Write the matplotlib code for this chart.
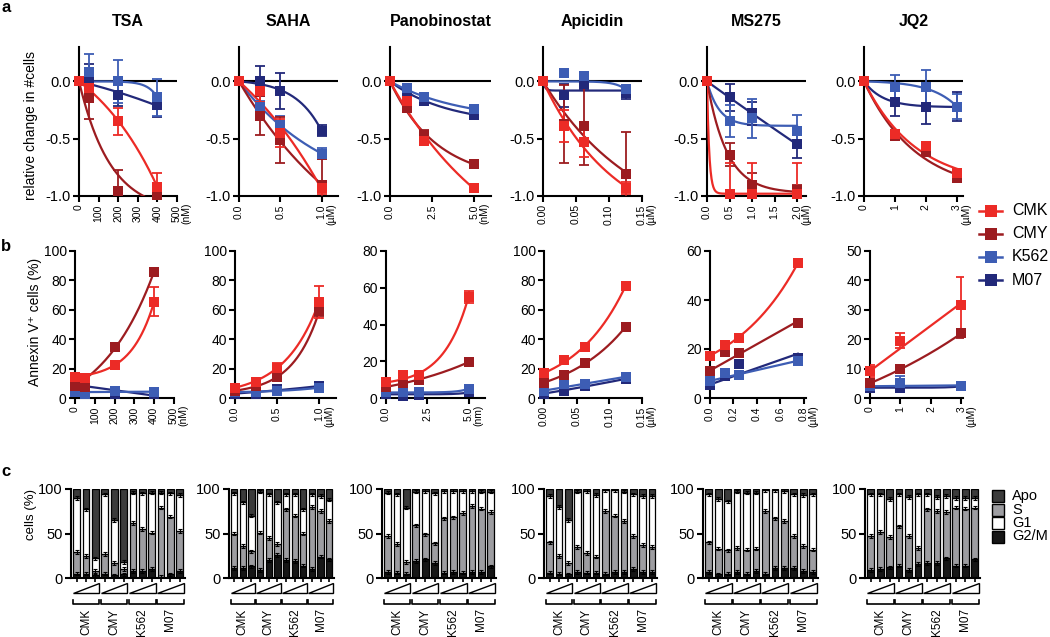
"""
Dose-response panels for HDAC / BET inhibitors in four leukaemia cell lines.

a: relative change in cell number, b: Annexin V+ cells, c: cell-cycle distribution.
"""

import matplotlib

matplotlib.use("Agg")
import matplotlib.pyplot as plt
import numpy as np
from matplotlib.lines import Line2D
from matplotlib.patches import Polygon, Rectangle
from matplotlib.transforms import blended_transform_factory


FIG_W, FIG_H = 1050, 637

CELL_LINES = ["CMK", "CMY", "K562", "M07"]
CELL_COLORS = ["#ec2b26", "#9c1c20", "#3d5db4", "#22297a"]
DRUGS = ["TSA", "SAHA", "Panobinostat", "Apicidin", "MS275", "JQ2"]

PHASES = ["Apo", "S", "G1", "G2/M"]
PHASE_COLORS = {"G2/M": "#161616", "S": "#9d9da1", "G1": "#ffffff", "Apo": "#3b3b3b"}

# ---------------------------------------------------------------- panel a
# relative change in #cells, rows are CMK, CMY, K562, M07
TSA_DOSE_A = [0, 50, 200, 400]
TSA_A = [[0, -0.06, -0.35, -0.92], [0, -0.145, -0.96, -0.99],
         [0, 0.08, 0.0, -0.14], [0, 0.03, -0.115, -0.21]]
TSA_A_ERR = [[0, 0.03, 0.12, 0.12], [0, 0.18, 0.19, 0.03],
             [0, 0.16, 0.19, 0.16], [0, 0.12, 0.10, 0.10]]

SAHA_DOSE_A = [0, 0.25, 0.5, 1.0]
SAHA_A = [[0, -0.08, -0.45, -0.93], [0, -0.30, -0.51, -0.90],
          [0, -0.22, -0.38, -0.63], [0, 0.0, -0.085, -0.43]]
SAHA_A_ERR = [[0, 0.10, 0.12, 0.05], [0, 0.17, 0.20, 0.22],
              [0, 0.05, 0.08, 0.05], [0, 0.13, 0.16, 0.05]]

PANO_DOSE_A = [0, 1, 2, 5]
PANO_A = [[0, -0.17, -0.52, -0.93], [0, -0.23, -0.47, -0.72],
          [0, -0.06, -0.14, -0.24], [0, -0.09, -0.17, -0.29]]
PANO_A_ERR = [[0, 0.02, 0.03, 0.02], [0, 0.02, 0.05, 0.02],
              [0, 0.02, 0.03, 0.02], [0, 0.02, 0.02, 0.02]]

APIC_DOSE_A = [0, 0.03125, 0.0625, 0.125]
APIC_A = [[0, -0.39, -0.53, -0.93], [0, -0.37, -0.39, -0.81],
          [0, 0.07, 0.05, -0.07], [0, -0.12, -0.02, -0.10]]
APIC_A_ERR = [[0, 0.14, 0.13, 0.05], [0, 0.34, 0.34, 0.37],
              [0, 0.03, 0.03, 0.03], [0, 0.10, 0.05, 0.05]]

MS275_DOSE_A = [0, 0.5, 1.0, 2.0]
MS275_A = [[0, -0.98, -0.98, -0.98], [0, -0.64, -0.90, -0.95],
           [0, -0.345, -0.32, -0.43], [0, -0.14, -0.28, -0.55]]
MS275_A_ERR = [[0, 0.27, 0.27, 0.27], [0, 0.10, 0.10, 0.05],
               [0, 0.14, 0.17, 0.14], [0, 0.12, 0.10, 0.12]]

JQ2_DOSE_A = [0, 1, 2, 3]
JQ2_A = [[0, -0.46, -0.56, -0.80], [0, -0.48, -0.62, -0.84],
         [0, -0.045, -0.05, -0.22], [0, -0.18, -0.22, -0.22]]
JQ2_A_ERR = [[0, 0.02, 0.03, 0.02], [0, 0.02, 0.03, 0.02],
             [0, 0.10, 0.15, 0.11], [0, 0.12, 0.15, 0.13]]

# ---------------------------------------------------------------- panel b
# Annexin V+ cells (%), rows are CMK, CMY, K562, M07
TSA_DOSE_B = [0, 50, 200, 400]
TSA_B = [[14.5, 13.5, 22.5, 65.5], [8, 7.5, 35, 86], [4, 3, 5, 4], [9, 6, 3, 3]]
TSA_B_ERR = [[1, 1, 2, 10], [1, 1, 1, 1], [1, 1, 1, 1], [1, 1, 1, 1]]

SAHA_DOSE_B = [0, 0.25, 0.5, 1.0]
SAHA_B = [[7, 11, 20.5, 65.5], [5, 8, 14, 59], [4, 4, 5, 7], [3, 3, 6, 8]]
SAHA_B_ERR = [[1, 2, 3, 11], [1, 1, 2, 3], [1, 1, 1, 1], [1, 1, 1, 1]]

PANO_DOSE_B = [0, 1, 2, 5]
PANO_B = [[8.5, 12.5, 12.5, 55], [6, 8, 10, 19.5], [3, 3, 3, 5], [2, 1, 1.5, 3]]
PANO_B_ERR = [[1, 1, 1, 3.5], [1, 1, 1, 1], [1, 1, 1, 1], [1, 1, 1, 1]]

APIC_DOSE_B = [0, 0.03125, 0.0625, 0.125]
APIC_B = [[17, 26, 34.5, 76.5], [10.5, 15.5, 23.5, 48.5], [5, 9.5, 9.5, 14], [3, 5, 8, 13]]
APIC_B_ERR = [[1, 1, 1, 1], [1, 1, 1, 1], [1, 1, 1, 1], [1, 1, 1, 1]]

MS275_DOSE_B = [0, 0.125, 0.25, 0.75]
MS275_B = [[17.3, 21.7, 24.5, 55], [11.2, 18.7, 18.4, 30.5], [7, 10.2, 9.4, 15], [5.5, 9, 14, 16.4]]
MS275_B_ERR = [[1, 1, 1, 1], [1, 1, 1, 1.5], [1, 1, 1, 1], [1, 1, 1, 1]]

JQ2_DOSE_B = [0, 1, 3]
JQ2_B = [[9.2, 19.5, 31.5], [5, 9.8, 22], [4, 5, 4], [3.5, 3.5, 4]]
JQ2_B_ERR = [[2, 2.5, 9.5], [1, 1, 1.5], [1, 2.5, 1], [1, 1, 1]]

# ---------------------------------------------------------------- panel c
# cell-cycle phases (%), bars: CMK x3, CMY x3, K562 x3, M07 x3 (rising dose)
TSA_G2M = [5, 5, 3, 5, 3, 4, 8, 8, 10, 1, 4, 8]
TSA_S = [24, 20, 5, 22, 14, 6, 54, 47, 41, 78, 65, 45]
TSA_G1 = [61, 52, 14, 67, 48, 8, 34, 40, 45, 17, 26, 40]
TSA_APO = [10, 23, 78, 6, 35, 82, 4, 5, 4, 4, 5, 7]

SAHA_G2M = [11, 11, 13, 9, 20, 26, 20, 19, 14, 10, 24, 21]
SAHA_S = [39, 25, 17, 42, 25, 12, 57, 51, 36, 70, 51, 43]
SAHA_G1 = [45, 49, 40, 46, 49, 47, 17, 24, 27, 14, 17, 24]
SAHA_APO = [5, 15, 30, 3, 6, 15, 6, 6, 23, 6, 8, 12]

PANO_G2M = [7, 6, 5, 19, 21, 17, 6, 7, 6, 7, 7, 13]
PANO_S = [40, 32, 13, 40, 28, 22, 61, 61, 67, 74, 71, 61]
PANO_G1 = [49, 56, 61, 38, 49, 56, 31, 30, 25, 17, 19, 23]
PANO_APO = [4, 6, 21, 3, 2, 5, 2, 2, 2, 2, 3, 3]

APIC_G2M = [6, 5, 4, 7, 6, 6, 5, 7, 7, 10, 7, 7]
APIC_S = [34, 20, 13, 28, 22, 18, 70, 63, 57, 37, 30, 28]
APIC_G1 = [52, 55, 48, 62, 70, 69, 24, 29, 33, 47, 55, 57]
APIC_APO = [8, 20, 35, 3, 2, 7, 1, 1, 3, 6, 8, 8]

MS275_G2M = [7, 4, 5, 7, 5, 8, 5, 11, 11, 11, 8, 7]
MS275_S = [33, 29, 26, 27, 27, 25, 70, 56, 53, 36, 28, 25]
MS275_G1 = [54, 56, 55, 63, 64, 63, 24, 32, 34, 47, 57, 62]
MS275_APO = [6, 11, 14, 3, 4, 4, 1, 1, 2, 6, 7, 6]

JQ2_G2M = [9, 10, 12, 14, 9, 16, 17, 17, 22, 14, 14, 21]
JQ2_S = [38, 42, 34, 44, 38, 18, 60, 58, 52, 65, 64, 58]
JQ2_G1 = [47, 42, 43, 36, 44, 60, 17, 16, 18, 11, 12, 11]
JQ2_APO = [6, 6, 11, 6, 9, 6, 6, 9, 8, 10, 10, 10]

C_ERR = 2.0

# ---------------------------------------------------------------- axes
X_TICKS_A = [
    ([0, 100, 200, 300, 400, 500], ["0", "100", "200", "300", "400", "500"], "(nM)"),
    ([0, 0.5, 1.0], ["0.0", "0.5", "1.0"], "(µM)"),
    ([0, 2.5, 5.0], ["0.0", "2.5", "5.0"], "(nM)"),
    ([0, 0.05, 0.10, 0.15], ["0.00", "0.05", "0.10", "0.15"], "(µM)"),
    ([0, 0.5, 1.0, 1.5, 2.0], ["0.0", "0.5", "1.0", "1.5", "2.0"], "(µM)"),
    ([0, 1, 2, 3], ["0", "1", "2", "3"], "(µM)"),
]
X_TICKS_B = [
    ([0, 100, 200, 300, 400, 500], ["0", "100", "200", "300", "400", "500"], "(nM)"),
    ([0, 0.5, 1.0], ["0.0", "0.5", "1.0"], "(µM)"),
    ([0, 2.5, 5.0], ["0.0", "2.5", "5.0"], "(nm)"),
    ([0, 0.05, 0.10, 0.15], ["0.00", "0.05", "0.10", "0.15"], "(µM)"),
    ([0, 0.2, 0.4, 0.6, 0.8], ["0.0", "0.2", "0.4", "0.6", "0.8"], "(µM)"),
    ([0, 1, 2, 3], ["0", "1", "2", "3"], "(µM)"),
]
XMAX_A = [500, 1.2, 6.0, 0.15, 2.2, 3.2]
XMAX_B = [500, 1.2, 6.0, 0.15, 0.82, 3.05]
YMAX_B = [100, 100, 80, 100, 60, 50]
YSTEP_B = [20, 20, 20, 20, 20, 10]

# pixel extents (left, right) of each axes
COLS_A = [(79, 177), (239, 338), (390, 491), (543, 642), (707, 806), (864, 963)]
COLS_B = [(75, 174), (235, 336), (386, 485), (544, 642), (710, 806), (870, 963)]
COLS_C = [(71, 185), (229, 334), (382, 496), (544, 657), (703, 818), (865, 980)]
ROW_A = (47, 196)
ROW_B = (251, 398)
ROW_C = (489, 578)


def px_axes(fig, cols, rows):
    """Add an axes given pixel extents measured from the top-left corner."""
    left, right = cols
    top, bottom = rows
    return fig.add_axes([left / FIG_W, 1 - bottom / FIG_H,
                         (right - left) / FIG_W, (bottom - top) / FIG_H])


def fit_curve(x, y, growth_only=False):
    """Least-squares exponential (or linear) curve through the first point."""
    x = np.asarray(x, float)
    y = np.asarray(y, float)
    span = x.max()
    decay = [] if growth_only else -np.geomspace(0.05, 40, 160)
    ks = np.concatenate([decay, [0.0], np.geomspace(0.05, 8, 120)]) / span
    best = None
    for k in ks:
        basis = x if k == 0 else np.expm1(k * x) / k
        c = np.dot(basis, y - y[0]) / max(np.dot(basis, basis), 1e-12)
        sse = np.sum((y[0] + c * basis - y) ** 2)
        if best is None or sse < best[0] - 1e-12:
            best = (sse, k, c)
    _, k, c = best
    xs = np.linspace(0, span, 200)
    basis = xs if k == 0 else np.expm1(k * xs) / k
    return xs, y[0] + c * basis


def style_axes(ax):
    for side in ("top", "right"):
        ax.spines[side].set_visible(False)
    for side in ("left", "bottom"):
        ax.spines[side].set_linewidth(1.5)
    ax.tick_params(width=1.5, length=4, pad=2, labelsize=10)


def set_dose_ticks(ax, ticks, labels, unit):
    ax.set_xticks(ticks)
    ax.set_xticklabels(labels, rotation=90, fontsize=7.5)
    ax.annotate(unit, xy=(ticks[-1], 0), xycoords=("data", "axes fraction"),
                xytext=(7, -5), textcoords="offset points", rotation=90,
                ha="center", va="top", fontsize=7.5, annotation_clip=False)


def draw_series(ax, dose, values, errors, growth_only=False):
    """Draw the four cell lines: fitted curve, error bars and square markers."""
    for i in reversed(range(len(CELL_LINES))):
        color = CELL_COLORS[i]
        xs, ys = fit_curve(dose, values[i], growth_only)
        ax.plot(xs, ys, color=color, lw=1.6, zorder=3)
        err = np.asarray(errors[i], float)
        has_err = err > 0
        ax.errorbar(np.asarray(dose)[has_err], np.asarray(values[i])[has_err],
                    yerr=err[has_err], fmt="none", ecolor=color, elinewidth=1.3,
                    capsize=3.5, capthick=1.3, zorder=4)
        ax.plot(dose, values[i], "s", color=color, ms=7, mew=0, zorder=5, clip_on=False)


def draw_cycle(ax, g2m, s, g1, apo):
    """Stacked cell-cycle bars with dose wedges and cell-line brackets."""
    x = np.arange(12)
    bottom = np.zeros(12)
    tops = []
    for vals, phase in zip([g2m, s, g1, apo], ["G2/M", "S", "G1", "Apo"]):
        ax.bar(x, vals, 0.72, bottom=bottom, color=PHASE_COLORS[phase],
               edgecolor="black", linewidth=0.9, zorder=2)
        bottom = bottom + np.asarray(vals, float)
        tops.append(bottom.copy())
    for top in tops[:3]:
        ax.errorbar(x, top, yerr=C_ERR, fmt="none", ecolor="black",
                    elinewidth=0.8, capsize=1.5, capthick=0.8, zorder=3)

    ax.set_xlim(-0.6, 11.55)
    ax.set_ylim(0, 100)
    ax.set_yticks([0, 50, 100])
    ax.set_xticks(x)
    ax.set_xticklabels([])
    style_axes(ax)
    ax.tick_params(axis="x", length=3, width=1.2)
    ax.tick_params(axis="y", labelsize=10.5)

    trans = blended_transform_factory(ax.transData, ax.transAxes)
    for g, name in enumerate(CELL_LINES):
        x0, x1 = 3 * g - 0.42, 3 * g + 2.42
        ax.add_patch(Polygon([[x0, -0.17], [x1, -0.17], [x1, -0.055]], closed=True,
                             facecolor="white", edgecolor="black", lw=1.0,
                             transform=trans, clip_on=False))
        ax.add_line(Line2D([x0, x0, x1, x1], [-0.245, -0.29, -0.29, -0.245],
                           color="black", lw=1.2, transform=trans, clip_on=False))
        ax.text(3 * g + 1, -0.34, name, rotation=90, ha="center", va="top",
                fontsize=8.5, transform=trans)


def main():
    plt.rcParams["font.family"] = ["Liberation Sans", "DejaVu Sans"]
    plt.rcParams["axes.unicode_minus"] = False

    fig = plt.figure(figsize=(FIG_W / 100, FIG_H / 100), dpi=100)

    a_sets = [(TSA_DOSE_A, TSA_A, TSA_A_ERR), (SAHA_DOSE_A, SAHA_A, SAHA_A_ERR),
              (PANO_DOSE_A, PANO_A, PANO_A_ERR), (APIC_DOSE_A, APIC_A, APIC_A_ERR),
              (MS275_DOSE_A, MS275_A, MS275_A_ERR), (JQ2_DOSE_A, JQ2_A, JQ2_A_ERR)]
    b_sets = [(TSA_DOSE_B, TSA_B, TSA_B_ERR), (SAHA_DOSE_B, SAHA_B, SAHA_B_ERR),
              (PANO_DOSE_B, PANO_B, PANO_B_ERR), (APIC_DOSE_B, APIC_B, APIC_B_ERR),
              (MS275_DOSE_B, MS275_B, MS275_B_ERR), (JQ2_DOSE_B, JQ2_B, JQ2_B_ERR)]
    c_sets = [(TSA_G2M, TSA_S, TSA_G1, TSA_APO), (SAHA_G2M, SAHA_S, SAHA_G1, SAHA_APO),
              (PANO_G2M, PANO_S, PANO_G1, PANO_APO), (APIC_G2M, APIC_S, APIC_G1, APIC_APO),
              (MS275_G2M, MS275_S, MS275_G1, MS275_APO), (JQ2_G2M, JQ2_S, JQ2_G1, JQ2_APO)]

    for j, drug in enumerate(DRUGS):
        # panel a
        ax = px_axes(fig, COLS_A[j], ROW_A)
        style_axes(ax)
        ax.axhline(0, color="black", lw=1.5, zorder=2)
        draw_series(ax, *a_sets[j])
        ax.set_xlim(0, XMAX_A[j])
        ax.set_ylim(-1.0, 0.3)
        ax.set_yticks([-1.0, -0.5, 0.0])
        ax.set_yticklabels(["-1.0", "-0.5", "0.0"], fontsize=10.5)
        set_dose_ticks(ax, *X_TICKS_A[j])
        ax.set_title(drug, fontsize=11.5, fontweight="bold", pad=15)

        # panel b
        ax = px_axes(fig, COLS_B[j], ROW_B)
        style_axes(ax)
        draw_series(ax, *b_sets[j], growth_only=True)
        ax.set_xlim(0, XMAX_B[j])
        ax.set_ylim(0, YMAX_B[j])
        ax.set_yticks(np.arange(0, YMAX_B[j] + 1, YSTEP_B[j]))
        set_dose_ticks(ax, *X_TICKS_B[j])

        # panel c
        ax = px_axes(fig, COLS_C[j], ROW_C)
        draw_cycle(ax, *c_sets[j])

    # panel letters and axis labels
    for letter, y in (("a", 12), ("b", 251), ("c", 476)):
        fig.text(1 / FIG_W, 1 - y / FIG_H, letter, fontsize=12, fontweight="bold",
                 va="baseline", ha="left")
    fig.text(31 / FIG_W, 1 - 126 / FIG_H, "relative change in #cells", rotation=90,
             ha="center", va="center", fontsize=10)
    fig.text(35 / FIG_W, 1 - 322 / FIG_H, "Annexin V⁺ cells (%)", rotation=90,
             ha="center", va="center", fontsize=10)
    fig.text(31 / FIG_W, 1 - 514 / FIG_H, "cells (%)", rotation=90,
             ha="center", va="center", fontsize=9.5)

    # cell-line legend
    for i, (name, color) in enumerate(zip(CELL_LINES, CELL_COLORS)):
        yc = 1 - (210.5 + 23.2 * i) / FIG_H
        fig.add_artist(Line2D([979 / FIG_W, 1002 / FIG_W], [yc, yc], color=color,
                              lw=1.8, transform=fig.transFigure))
        fig.add_artist(Line2D([990.5 / FIG_W], [yc], marker="s", ms=8, mew=0,
                              color=color, transform=fig.transFigure))
        fig.text(1012 / FIG_W, yc, name, va="center", ha="left", fontsize=11.5)

    # cell-cycle legend
    for i, phase in enumerate(PHASES):
        yc = 1 - (496 + 13.5 * i) / FIG_H
        fig.add_artist(Rectangle((992 / FIG_W, yc - 6 / FIG_H), 12 / FIG_W, 12 / FIG_H,
                                 facecolor=PHASE_COLORS[phase], edgecolor="black",
                                 lw=1.0, transform=fig.transFigure))
        fig.text(1012 / FIG_W, yc, phase, va="center", ha="left", fontsize=10.5)

    fig.savefig("out.png", dpi=100)
    plt.close(fig)


if __name__ == "__main__":
    main()
